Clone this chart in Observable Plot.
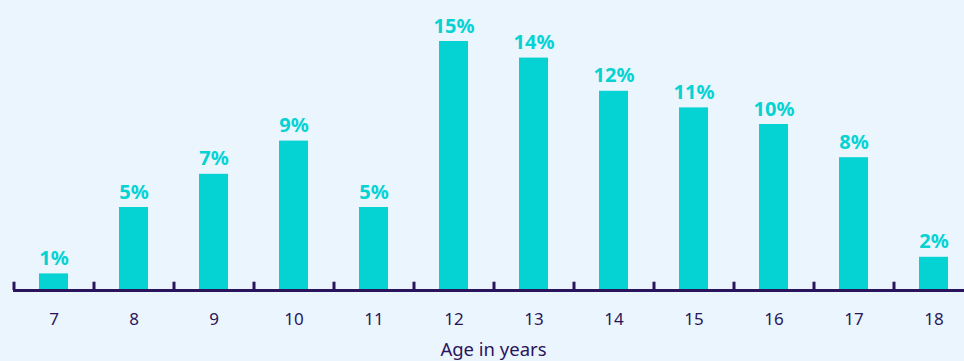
<!DOCTYPE html>
<html>
<head>
<meta charset="utf-8">
<script src="https://cdn.jsdelivr.net/npm/d3@7"></script>
<script src="https://cdn.jsdelivr.net/npm/@observablehq/plot@0.6"></script>
<style>
  html, body { margin: 0; padding: 0; background: #ebf5fe; overflow: hidden; }
  #wrap { width: 964px; height: 361px; overflow: hidden; }
  #wrap svg { max-width: none !important; }
</style>
</head>
<body>
<div id="wrap"></div>
<script>
const ages = ["7", "8", "9", "10", "11", "12", "13", "14", "15", "16", "17", "18"];
const shares = [1, 5, 7, 9, 5, 15, 14, 12, 11, 10, 8, 2];
const xLabel = "Age in years";

const data = ages.map((a, i) => ({age: a, value: shares[i]}));
const ink = "#2a145c";
const teal = "#05d3d3";
const step = 80;

const chart = Plot.plot({
  width: 980,
  height: 361,
  marginLeft: 13,
  marginRight: 7,
  marginTop: 41,
  marginBottom: 71,
  style: {background: "transparent", fontFamily: "'Noto Sans', sans-serif", color: ink, maxWidth: "none"},
  x: {domain: ages, paddingInner: 0.6375, paddingOuter: 0.31875, label: null},
  y: {domain: [0, 15], axis: null},
  marks: [
    Plot.barY(data, {x: "age", y: "value", fill: teal}),
    Plot.text(data, {x: "age", y: "value", text: d => d.value + "%", lineAnchor: "bottom", dy: -9,
      fill: teal, fontSize: 20, fontWeight: "bold"}),
    Plot.ruleY([0], {stroke: ink, strokeWidth: 3}),
    Plot.ruleX(ages, {x: d => d, y1: 0, y2: 0.5, dx: -step / 2, stroke: ink, strokeWidth: 3}),
    Plot.axisX({tickSize: 0, tickPadding: 22, fontSize: 17, label: null, color: ink}),
    Plot.text([xLabel], {frameAnchor: "bottom", dy: 65, lineAnchor: "bottom", fontSize: 18.5, fill: ink})
  ]
});
document.getElementById("wrap").appendChild(chart);
</script>
</body>
</html>
